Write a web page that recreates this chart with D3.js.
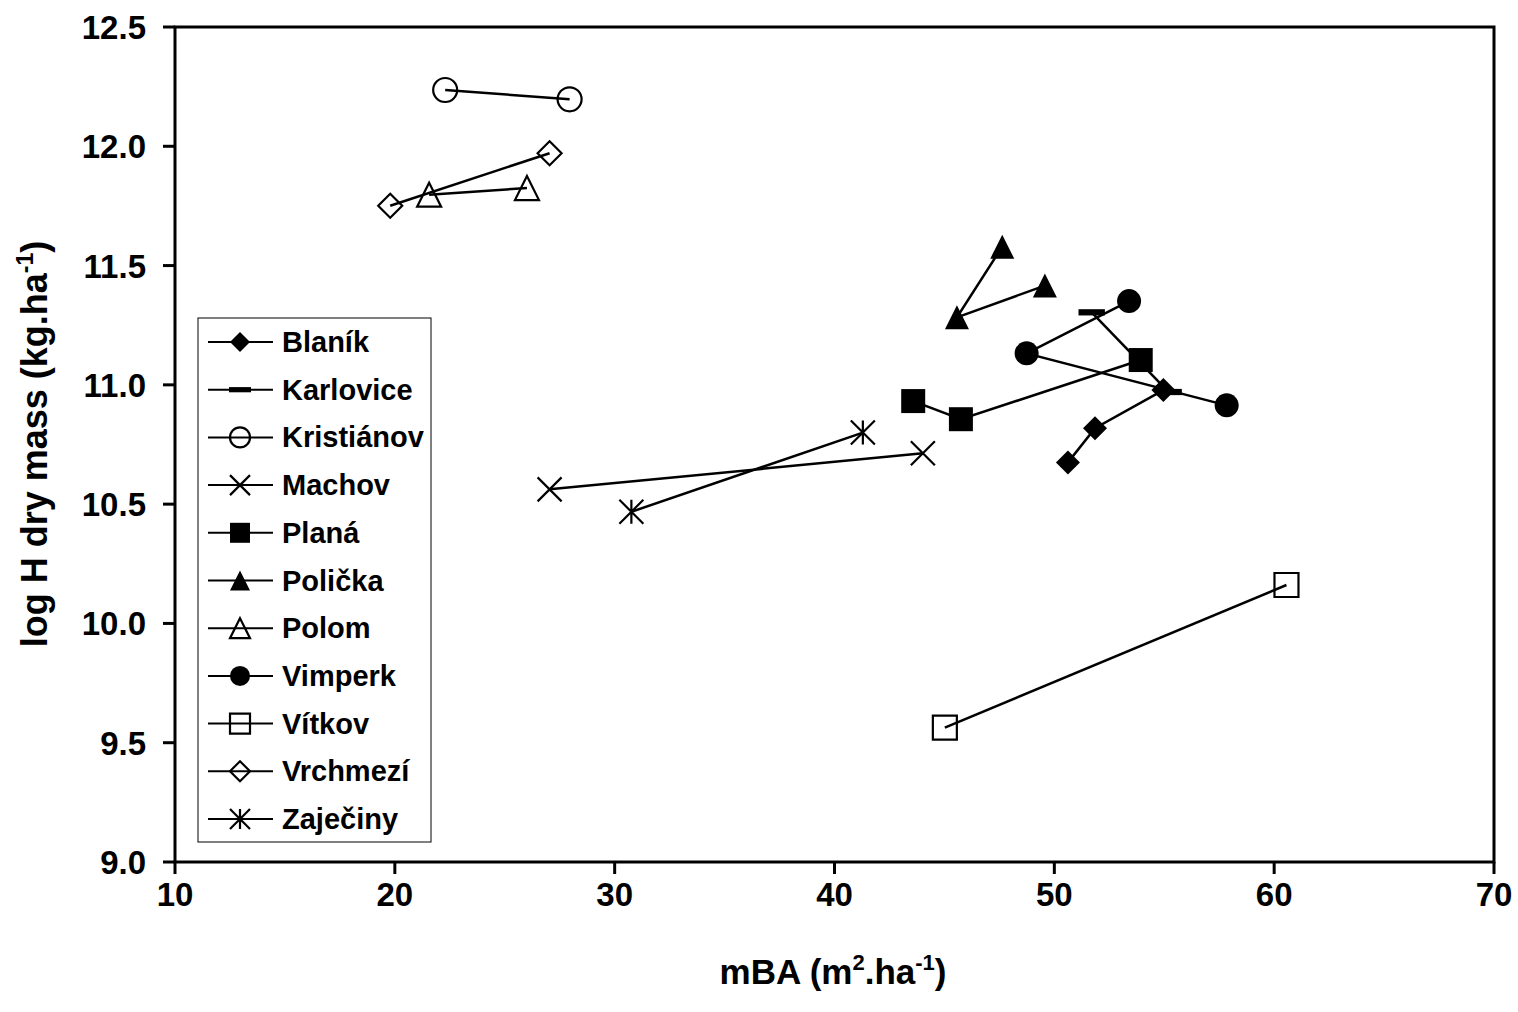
<!DOCTYPE html>
<html>
<head>
<meta charset="utf-8">
<script src="https://cdn.jsdelivr.net/npm/d3@7"></script>
<style>
  body { margin: 0; background: #fff; }
  svg text { font-family: "Liberation Sans", Arial, sans-serif; font-weight: bold; fill: #000; }
</style>
</head>
<body>
<svg id="chart" width="1518" height="1012"></svg>
<script>
// series names, legend order
var sites = ["Blaník", "Karlovice", "Kristiánov", "Machov", "Planá", "Polička",
             "Polom", "Vimperk", "Vítkov", "Vrchmezí", "Zaječiny"];

// mBA values (x) and log H dry mass (y) per site
var blanikX = [50.62, 51.85, 54.96],     blanikY = [10.675, 10.818, 10.978];
var karloviceX = [51.70, 55.2],          karloviceY = [11.304, 10.970];
var kristianovX = [22.29, 27.95],        kristianovY = [12.236, 12.197];
var machovX = [27.04, 44.02],            machovY = [10.562, 10.713];
var planaX = [43.58, 45.75, 53.93],      planaY = [10.932, 10.856, 11.104];
var polickaX = [47.63, 45.57, 49.57],    polickaY = [11.579, 11.283, 11.416];
var polomX = [21.56, 26.01],             polomY = [11.797, 11.825];
var vimperkX = [53.40, 48.74, 57.84],    vimperkY = [11.351, 11.132, 10.914];
var vitkovX = [45.02, 60.56],            vitkovY = [9.563, 10.161];
var vrchmeziX = [19.79, 27.04],          vrchmeziY = [11.751, 11.971];
var zajecinyX = [30.76, 41.29],          zajecinyY = [10.468, 10.800];

// axis ticks
var xTicks = [10, 20, 30, 40, 50, 60, 70];
var yTicks = [9.0, 9.5, 10.0, 10.5, 11.0, 11.5, 12.0, 12.5];

var xs = [blanikX, karloviceX, kristianovX, machovX, planaX, polickaX, polomX, vimperkX, vitkovX, vrchmeziX, zajecinyX];
var ys = [blanikY, karloviceY, kristianovY, machovY, planaY, polickaY, polomY, vimperkY, vitkovY, vrchmeziY, zajecinyY];
var shapes = ["diamond", "dash", "circle", "x", "square", "triangle", "triangle", "circle", "square", "diamond", "star"];
var filled = [true, true, false, false, true, true, false, true, false, false, false];

var svg = d3.select('#chart');
var plotLeft = 175, plotRight = 1494, plotTop = 27, plotBottom = 862;

var xscale = d3.scaleLinear().domain([10, 70]).range([plotLeft, plotRight]);
var yscale = d3.scaleLinear().domain([9, 12.5]).range([plotBottom, plotTop]);

// marker path for a given shape, s = full width
function markerPath(shape, s) {
  var h = s / 2;
  if (shape == "diamond") return `M0,${-h}L${h},0L0,${h}L${-h},0Z`;
  if (shape == "square") return `M${-h},${-h}H${h}V${h}H${-h}Z`;
  if (shape == "triangle") return `M0,${-h}L${h},${h}L${-h},${h}Z`;
  if (shape == "circle") return d3.arc()({innerRadius: 0, outerRadius: h, startAngle: 0, endAngle: 2 * Math.PI});
  if (shape == "dash") return `M${-h*1.1},${-h*0.26}H${h*1.1}V${h*0.26}H${-h*1.1}Z`;
  if (shape == "x") return `M${-h},${-h}L${h},${h}M${h},${-h}L${-h},${h}`;
  if (shape == "star") return `M${-h},${-h}L${h},${h}M${h},${-h}L${-h},${h}M0,${-h}V${h}`;
}

function drawMarker(g, i, x, y, s) {
  var shape = shapes[i];
  var p = g.append('path')
    .attr('d', markerPath(shape, s))
    .attr('transform', `translate(${x},${y})`);
  if (shape == "x" || shape == "star") {
    p.attr('fill', 'none').attr('stroke', '#000').attr('stroke-width', 2.2);
  } else if (filled[i]) {
    p.attr('fill', '#000').attr('stroke', 'none');
  } else {
    p.attr('fill', 'none').attr('stroke', '#000').attr('stroke-width', 2.2);
  }
}

// plot frame
svg.append('rect')
  .attr('x', plotLeft).attr('y', plotTop)
  .attr('width', plotRight - plotLeft).attr('height', plotBottom - plotTop)
  .attr('fill', 'none').attr('stroke', '#000').attr('stroke-width', 3);

// y axis
var yAxis = svg.append('g');
yAxis.selectAll('line').data(yTicks).enter().append('line')
  .attr('x1', plotLeft - 12).attr('x2', plotLeft)
  .attr('y1', d => yscale(d)).attr('y2', d => yscale(d))
  .attr('stroke', '#000').attr('stroke-width', 3);
yAxis.selectAll('text').data(yTicks).enter().append('text')
  .attr('x', 146).attr('y', d => yscale(d) + 12)
  .attr('text-anchor', 'end')
  .style('font-size', '33px')
  .text(d => d3.format('.1f')(d));

// x axis
var xAxis = svg.append('g');
xAxis.selectAll('line').data(xTicks).enter().append('line')
  .attr('x1', d => xscale(d)).attr('x2', d => xscale(d))
  .attr('y1', plotBottom).attr('y2', plotBottom + 12)
  .attr('stroke', '#000').attr('stroke-width', 3);
xAxis.selectAll('text').data(xTicks).enter().append('text')
  .attr('x', d => xscale(d)).attr('y', 906)
  .attr('text-anchor', 'middle')
  .style('font-size', '33px')
  .text(d => d);

// axis titles
var xt = svg.append('text')
  .attr('x', 833).attr('y', 984)
  .attr('text-anchor', 'middle')
  .style('font-size', '35px');
xt.append('tspan').text('mBA (m');
xt.append('tspan').attr('dy', -14).style('font-size', '22px').text('2');
xt.append('tspan').attr('dy', 14).text('.ha');
xt.append('tspan').attr('dy', -14).style('font-size', '22px').text('-1');
xt.append('tspan').attr('dy', 14).text(')');

var yt = svg.append('text')
  .attr('transform', 'translate(47,444) rotate(-90)')
  .attr('text-anchor', 'middle')
  .style('font-size', '36px');
yt.append('tspan').text('log H dry mass (kg.ha');
yt.append('tspan').attr('dy', -14).style('font-size', '23px').text('-1');
yt.append('tspan').attr('dy', 14).text(')');

// series lines and markers
var line = d3.line().x(d => xscale(d[0])).y(d => yscale(d[1]));
var plot = svg.append('g');
sites.forEach(function(name, i) {
  var pts = xs[i].map((x, j) => [x, ys[i][j]]);
  plot.append('path')
    .attr('d', line(pts))
    .attr('fill', 'none').attr('stroke', '#000').attr('stroke-width', 2.5);
  pts.forEach(function(p) {
    drawMarker(plot, i, xscale(p[0]), yscale(p[1]), 24);
  });
});

// legend
var legend = svg.append('g');
legend.append('rect')
  .attr('x', 198).attr('y', 318).attr('width', 233).attr('height', 524)
  .attr('fill', '#fff').attr('stroke', '#000').attr('stroke-width', 1);
sites.forEach(function(name, i) {
  var y = 342 + i * 47.7;
  legend.append('line')
    .attr('x1', 208).attr('x2', 273).attr('y1', y).attr('y2', y)
    .attr('stroke', '#000').attr('stroke-width', 2);
  drawMarker(legend, i, 240, y, 20);
  legend.append('text')
    .attr('x', 282).attr('y', y + 10)
    .style('font-size', '29px')
    .text(name);
});
</script>
</body>
</html>
